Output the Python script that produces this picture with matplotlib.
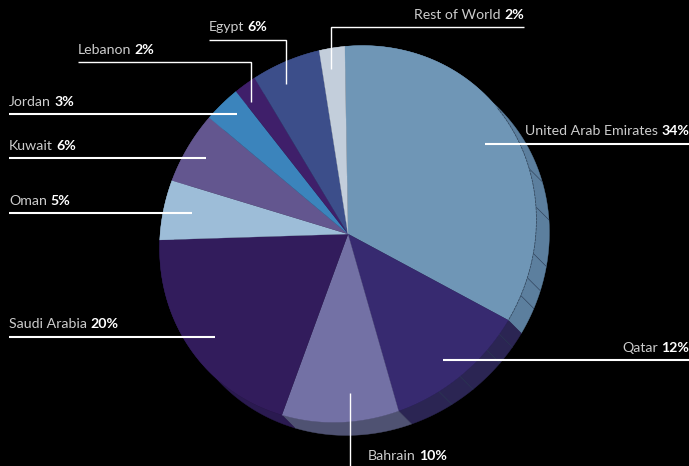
import numpy as np
import matplotlib
matplotlib.use("Agg")
import matplotlib.pyplot as plt
from matplotlib.patches import Polygon

W, H = 689, 466
# clockwise from the top
names = ["United Arab Emirates", "Qatar", "Bahrain", "Saudi Arabia", "Oman", "Kuwait",
         "Jordan", "Lebanon", "Egypt", "Rest of World"]
labels = ["34%", "12%", "10%", "20%", "5%", "6%", "3%", "2%", "6%", "2%"]
drawn_shares = [33.1, 12.7, 10.0, 18.9, 5.2, 6.4, 3.3, 2.0, 6.1, 2.2]
top_colors = ["#6f96b6", "#372a70", "#7371a5", "#321c5c", "#9dbdd8", "#63568f",
              "#3b84bc", "#3f1f6a", "#3c4e8a", "#c3cedb"]
side_colors = ["#5c7f9e", "#2b2553", "#4f5272", "#2a1a50", "#7f9ab2", "#4f4573",
               "#2f6a96", "#321955", "#303e6e", "#9ca5af"]
rim_ticks = [19.8, 8.2, -6, -13.7, -19.6, -33.5, -39.9, -51.8, -60]

# tilted pie: an ellipse whose long axis runs NE-SW, extruded towards SE
CX, CY, A, B, DEPTH = 348, 234, 195.5, 181, 13

fig = plt.figure(figsize=(W / 100, H / 100), dpi=100, facecolor="black")
ax = fig.add_axes([0, 0, 1, 1])
ax.set_xlim(0, W)
ax.set_ylim(H, 0)
ax.axis("off")

def radius(deg):
    a = np.radians(np.asarray(deg, dtype=float) - 45)
    return 1 / np.sqrt((np.cos(a) / A) ** 2 + (np.sin(a) / B) ** 2)

def arc(cx, cy, a0, a1, n=80):
    d = np.linspace(a0, a1, n)
    a, r = np.radians(d), radius(d)
    return np.column_stack([cx + r * np.cos(a), cy - r * np.sin(a)])

shares = np.array(drawn_shares)
ends = 91 - np.cumsum(shares) / shares.sum() * 360
starts = np.r_[91, ends[:-1]]

# side wall
for a0, a1, c in zip(starts, ends, side_colors):
    poly = np.vstack([arc(CX, CY, a0, a1), arc(CX + DEPTH, CY + DEPTH, a1, a0)])
    ax.add_patch(Polygon(poly, closed=True, fc=c, ec=c, lw=0.3, zorder=1))
for t in rim_ticks:
    p = arc(CX, CY, t, t, n=1)[0]
    ax.plot([p[0], p[0] + DEPTH], [p[1], p[1] + DEPTH], color="#2a3a52", lw=0.4, zorder=2)

# top face
for a0, a1, c in zip(starts, ends, top_colors):
    poly = np.vstack([[CX, CY], arc(CX, CY, a0, a1)])
    ax.add_patch(Polygon(poly, closed=True, fc=c, ec=c, lw=0.2, zorder=3))
rim = arc(CX, CY, 40, -28)
ax.plot(rim[:, 0], rim[:, 1], color="#2f4258", lw=0.5, ls=(0, (4, 1)), zorder=4)

# leaders: (xs, ys, width)
leaders = {
    "United Arab Emirates": ([485, 689], [144, 144], 1.5),
    "Qatar": ([443, 689], [360, 360], 1.5),
    "Bahrain": ([350, 350], [393, 466], 1.0),
    "Saudi Arabia": ([9, 215], [337, 337], 1.5),
    "Oman": ([9, 192], [213, 213], 1.5),
    "Kuwait": ([9, 206], [158, 158], 1.5),
    "Jordan": ([9, 237], [114, 114], 1.5),
    "Lebanon": ([78, 251, 251], [62, 62, 102], 1.0),
    "Egypt": ([209, 286, 286], [40, 40, 84], 1.0),
    "Rest of World": ([524, 331, 331], [27, 27, 69], 1.0),
}
for n, (xs, ys, lw) in leaders.items():
    ax.plot(xs, ys, color="white", lw=lw, solid_capstyle="butt", solid_joinstyle="miter", zorder=5)

# label anchor: x, baseline y, alignment
anchors = {
    "United Arab Emirates": (689, 135, "right"),
    "Qatar": (689, 352, "right"),
    "Bahrain": (368, 460, "left"),
    "Saudi Arabia": (9, 328, "left"),
    "Oman": (9, 205, "left"),
    "Kuwait": (9, 150, "left"),
    "Jordan": (9, 106, "left"),
    "Lebanon": (78, 54, "left"),
    "Egypt": (209, 31, "left"),
    "Rest of World": (524, 19, "right"),
}
FONT = "Lato"
FS = 10.2
GAP = 3.5
NAME_COLOR = "#cccccc"
fig.canvas.draw()
rend = fig.canvas.get_renderer()
for n, lab in zip(names, labels):
    x, y, ha = anchors[n]
    kw = dict(va="baseline", family=FONT, fontsize=FS, zorder=6)
    if ha == "left":
        t = ax.text(x, y, n, color=NAME_COLOR, ha="left", **kw)
        xe = t.get_window_extent(rend).x1 + GAP
        ax.text(xe, y, lab, color="white", ha="left", fontweight="bold", **kw)
    else:
        t = ax.text(x, y, lab, color="white", ha="right", fontweight="bold", **kw)
        xs = t.get_window_extent(rend).x0 - GAP
        ax.text(xs, y, n, color=NAME_COLOR, ha="right", **kw)

fig.savefig("out.png", dpi=100, facecolor="black")
